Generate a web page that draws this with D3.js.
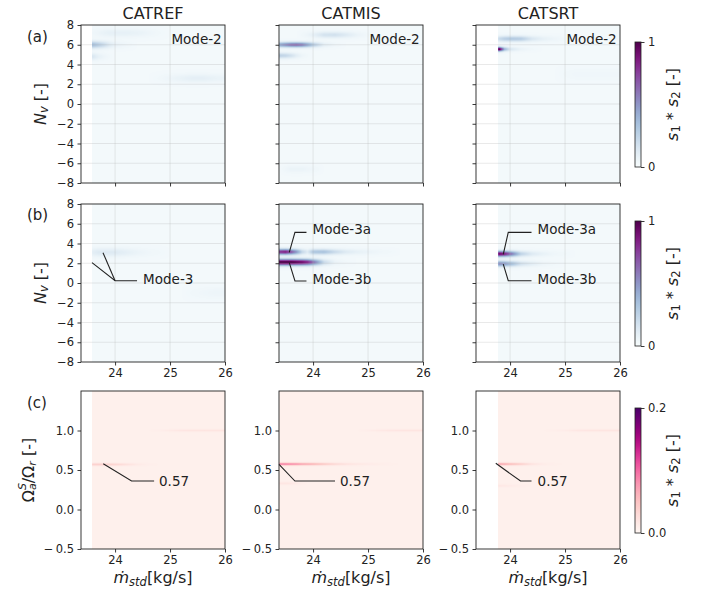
<!DOCTYPE html>
<html><head><meta charset="utf-8">
<script src="https://cdn.jsdelivr.net/npm/d3@7"></script>
<style>
body{margin:0;background:#fff;}
svg{display:block;}
text{font-family:"DejaVu Sans",sans-serif;fill:#222;}
</style>
</head><body>
<svg id="chart" width="714" height="598"></svg>
<script>
// ---------------- data ----------------
const columns = ["CATREF", "CATMIS", "CATSRT"];
const rowTags = ["(a)", "(b)", "(c)"];
const xTicks = [24, 25, 26];
const nvTicks = [-8, -6, -4, -2, 0, 2, 4, 6, 8];
const omegaTicks = [-0.5, 0.0, 0.5, 1.0];
const nvDomain = [-8, 8];
const omegaDomain = [-0.5, 1.5];
const xDomain = [23.38, 26];
const cbarMaxAB = 1;
const cbarMaxC = 0.2;
const dataStart = [23.58, 23.38, 23.78];
const bgAB = 0.025;
const bgC = 0.008;
const xSamples = [23.4, 23.5, 23.6, 23.7, 23.8, 23.9, 24.0, 24.2, 24.4, 24.6, 24.8, 25.0, 25.2, 25.4, 25.6, 25.8, 26.0];

// row (a): Mode-2, N_v
const refA_levels = [6.0, 4.8, 7.2, 2.6];
const refA_sigma = [0.25, 0.25, 0.3, 0.3];
const refA_values = [
  [0.30, 0.32, 0.32, 0.25, 0.18, 0.10, 0.05, 0.02, 0, 0, 0, 0, 0, 0, 0, 0, 0],
  [0.10, 0.12, 0.12, 0.06, 0.03, 0.01, 0, 0, 0, 0, 0, 0, 0, 0, 0, 0, 0],
  [0, 0, 0.02, 0.03, 0.05, 0.06, 0.06, 0.06, 0.05, 0.03, 0.01, 0, 0, 0, 0, 0, 0],
  [0, 0, 0, 0, 0, 0, 0, 0, 0, 0, 0.01, 0.03, 0.05, 0.07, 0.07, 0.05, 0.04]
];
const misA_levels = [6.0, 4.9, 7.0, -6.6];
const misA_sigma = [0.18, 0.2, 0.22, 0.25];
const misA_values = [
  [0.42, 0.50, 0.58, 0.60, 0.55, 0.42, 0.27, 0.07, 0.02, 0, 0, 0, 0, 0, 0, 0, 0],
  [0.22, 0.20, 0.15, 0.08, 0.03, 0.01, 0, 0, 0, 0, 0, 0, 0, 0, 0, 0, 0],
  [0, 0, 0, 0, 0.01, 0.03, 0.06, 0.14, 0.15, 0.10, 0.04, 0.01, 0, 0, 0, 0, 0],
  [0, 0.02, 0.04, 0.04, 0.04, 0.03, 0.02, 0, 0, 0, 0, 0, 0, 0, 0, 0, 0]
];
const srtA_levels = [5.55, 6.6, 3.0];
const srtA_sigma = [0.15, 0.2, 0.4];
const srtA_values = [
  [0, 0, 0, 0, 1.0, 0.35, 0.12, 0.04, 0.01, 0, 0, 0, 0, 0, 0, 0, 0],
  [0, 0, 0, 0, 0.18, 0.24, 0.27, 0.25, 0.12, 0.06, 0.03, 0.01, 0, 0, 0, 0, 0],
  [0, 0, 0, 0, 0, 0, 0, 0, 0, 0, 0, 0.01, 0.02, 0.02, 0.02, 0.02, 0.02]
];

// row (b): Mode-3, N_v
const refB_levels = [3.1, -1.0];
const refB_sigma = [0.3, 0.4];
const refB_values = [
  [0, 0, 0.08, 0.10, 0.10, 0.10, 0.10, 0.07, 0.04, 0.02, 0.01, 0, 0, 0, 0, 0, 0],
  [0, 0, 0, 0, 0, 0, 0, 0, 0, 0, 0, 0, 0, 0.01, 0.02, 0.03, 0.03]
];
const misB_levels = [3.15, 2.1];
const misB_sigma = [0.2, 0.22];
const misB_values = [
  [0.75, 0.80, 0.65, 0.45, 0.20, 0.10, 0.28, 0.30, 0.18, 0.10, 0.06, 0.04, 0.02, 0.01, 0, 0, 0],
  [1.0, 1.0, 1.0, 0.95, 0.90, 0.80, 0.60, 0.18, 0.04, 0.01, 0, 0, 0, 0, 0, 0, 0]
];
const srtB_levels = [2.95, 1.95];
const srtB_sigma = [0.2, 0.2];
const srtB_values = [
  [0, 0, 0, 0, 0.90, 0.80, 0.60, 0.22, 0.10, 0.05, 0.02, 0.01, 0, 0, 0, 0, 0],
  [0, 0, 0, 0, 0.50, 0.45, 0.35, 0.15, 0.08, 0.03, 0.01, 0, 0, 0, 0, 0, 0]
];

// row (c): Omega ratio
const refC_levels = [0.57, 1.0];
const refC_sigma = [0.012, 0.01];
const refC_values = [
  [0, 0, 0.03, 0.03, 0.03, 0.028, 0.025, 0.015, 0.006, 0.002, 0, 0, 0, 0, 0, 0, 0],
  [0, 0, 0, 0, 0, 0, 0, 0, 0, 0, 0.002, 0.006, 0.010, 0.012, 0.012, 0.012, 0.012]
];
const misC_levels = [0.575, 1.0, 0.33];
const misC_sigma = [0.012, 0.01, 0.012];
const misC_values = [
  [0.08, 0.08, 0.075, 0.07, 0.06, 0.055, 0.05, 0.035, 0.022, 0.013, 0.008, 0.005, 0.003, 0.001, 0, 0, 0],
  [0, 0, 0, 0, 0, 0, 0, 0, 0, 0, 0, 0.003, 0.007, 0.010, 0.011, 0.012, 0.012],
  [0.01, 0.01, 0.008, 0.005, 0.002, 0, 0, 0, 0, 0, 0, 0, 0, 0, 0, 0, 0]
];
const srtC_levels = [0.575, 1.0, 0.3];
const srtC_sigma = [0.012, 0.01, 0.012];
const srtC_values = [
  [0, 0, 0, 0, 0.06, 0.055, 0.045, 0.03, 0.012, 0.004, 0.001, 0, 0, 0, 0, 0, 0],
  [0, 0, 0, 0, 0, 0, 0, 0, 0, 0, 0.002, 0.004, 0.009, 0.011, 0.012, 0.012, 0.012],
  [0, 0, 0, 0, 0.008, 0.007, 0.005, 0.002, 0, 0, 0, 0, 0, 0, 0, 0, 0]
];

// annotations (data coordinates)
const mode2Label = [25.94, 6.55, "Mode-2"];
const refB_ann = [[[23.58, 2.06], [24.0, 0.23], [24.4, 0.23]], [[23.78, 3.07], [24.0, 0.23]]];
const refB_annText = [[24.51, 0.38, "Mode-3"]];
const misB_ann = [[[23.567, 3.1], [23.67, 5.13], [23.88, 5.13]], [[23.567, 2.06], [23.67, 0.2], [23.88, 0.2]]];
const misB_annText = [[23.99, 5.44, "Mode-3a"], [23.99, 0.42, "Mode-3b"]];
const srtB_ann = [[[23.876, 2.91], [23.967, 5.13], [24.39, 5.13]], [[23.876, 1.92], [23.967, 0.23], [24.39, 0.23]]];
const srtB_annText = [[24.5, 5.44, "Mode-3a"], [24.5, 0.42, "Mode-3b"]];
const refC_ann = [[[23.785, 0.58], [24.30, 0.36], [24.71, 0.36]]];
const refC_annText = [[24.80, 0.36, "0.57"]];
const misC_ann = [[[23.38, 0.572], [23.67, 0.36], [24.40, 0.36]]];
const misC_annText = [[24.49, 0.36, "0.57"]];
const srtC_ann = [[[23.74, 0.585], [24.19, 0.36], [24.39, 0.36]]];
const srtC_annText = [[24.5, 0.36, "0.57"]];

// ---------------- layout ----------------
const panelLeft = [81, 279, 476];
const rowTop = [25, 204, 391];
const PW = 144, PH = 158;
const cbarX = 635, cbarW = 6, cbarOff = 17, cbarH = 125;

const panelTable = [
  [ {levels: refA_levels, sigma: refA_sigma, values: refA_values, ann: [], annText: []},
    {levels: misA_levels, sigma: misA_sigma, values: misA_values, ann: [], annText: []},
    {levels: srtA_levels, sigma: srtA_sigma, values: srtA_values, ann: [], annText: []} ],
  [ {levels: refB_levels, sigma: refB_sigma, values: refB_values, ann: refB_ann, annText: refB_annText},
    {levels: misB_levels, sigma: misB_sigma, values: misB_values, ann: misB_ann, annText: misB_annText},
    {levels: srtB_levels, sigma: srtB_sigma, values: srtB_values, ann: srtB_ann, annText: srtB_annText} ],
  [ {levels: refC_levels, sigma: refC_sigma, values: refC_values, ann: refC_ann, annText: refC_annText},
    {levels: misC_levels, sigma: misC_sigma, values: misC_values, ann: misC_ann, annText: misC_annText},
    {levels: srtC_levels, sigma: srtC_sigma, values: srtC_values, ann: srtC_ann, annText: srtC_annText} ]
];

const svg = d3.select("#chart");
const defs = svg.append("defs");

function makeLUT(interp) {
  const lut = [];
  for (let k = 0; k < 256; k++) { const c = d3.rgb(interp(k / 255)); lut.push([c.r, c.g, c.b]); }
  return lut;
}
const lutAB = makeLUT(d3.interpolateBuPu);
const lutC = makeLUT(d3.interpolateRdPu);

function heatImage(p, xs, ys, start, bg, vmax, lut) {
  const cv = document.createElement("canvas");
  cv.width = PW; cv.height = PH;
  const ctx = cv.getContext("2d");
  const im = ctx.createImageData(PW, PH);
  const profs = p.values.map(v => d3.scaleLinear().domain(xSamples).range(v).clamp(true));
  for (let i = 0; i < PW; i++) {
    const x = xs.invert(i + 0.5);
    if (x < start) continue;
    const pv = profs.map(f => f(x));
    for (let j = 0; j < PH; j++) {
      const y = ys.invert(j + 0.5);
      let v = bg;
      for (let k = 0; k < p.levels.length; k++) {
        const z = (y - p.levels[k]) / p.sigma[k];
        v += pv[k] * Math.exp(-0.5 * z * z);
      }
      const t = Math.max(0, Math.min(1, v / vmax));
      const c = lut[Math.round(t * 255)];
      const o = (j * PW + i) * 4;
      im.data[o] = c[0]; im.data[o + 1] = c[1]; im.data[o + 2] = c[2]; im.data[o + 3] = 255;
    }
  }
  ctx.putImageData(im, 0, 0);
  return cv.toDataURL();
}

const TICK_FS = 11.5;
const fmtC = d => (d < 0 ? "\u2212\u2009" : "") + d3.format(".1f")(Math.abs(d));

for (let r = 0; r < 3; r++) {
  const isC = r === 2;
  for (let c = 0; c < 3; c++) {
    const p = panelTable[r][c];
    const g = svg.append("g").attr("transform", `translate(${panelLeft[c]},${rowTop[r]})`);
    const xs = d3.scaleLinear().domain(xDomain).range([0, PW]);
    const ys = d3.scaleLinear().domain(isC ? omegaDomain : nvDomain).range([PH, 0]);
    const href = heatImage(p, xs, ys, dataStart[c], isC ? bgC : bgAB, isC ? cbarMaxC : cbarMaxAB, isC ? lutC : lutAB);
    g.append("image").attr("x", 0).attr("y", 0).attr("width", PW).attr("height", PH)
      .attr("preserveAspectRatio", "none").attr("href", href);

    if (!isC) {
      g.append("g").selectAll("line.gx").data(xTicks.filter(d => d < 26)).join("line")
        .attr("x1", d => xs(d)).attr("x2", d => xs(d)).attr("y1", 0).attr("y2", PH)
        .attr("stroke", "#b0b0b0").attr("stroke-opacity", 0.35).attr("stroke-width", 0.8);
      g.append("g").selectAll("line.gy").data(nvTicks.filter(d => d > -8 && d < 8)).join("line")
        .attr("x1", 0).attr("x2", PW).attr("y1", d => ys(d)).attr("y2", d => ys(d))
        .attr("stroke", "#b0b0b0").attr("stroke-opacity", 0.35).attr("stroke-width", 0.8);
    }

    // annotations
    const line = d3.line().x(d => xs(d[0])).y(d => ys(d[1]));
    g.selectAll("path.ann").data(p.ann).join("path").attr("class", "ann")
      .attr("d", line).attr("fill", "none").attr("stroke", "#222").attr("stroke-width", 1.1);
    g.selectAll("text.ann").data(p.annText).join("text").attr("class", "ann")
      .attr("x", d => xs(d[0])).attr("y", d => ys(d[1])).attr("dominant-baseline", "central")
      .attr("font-size", 13.5).text(d => d[2]);
    if (r === 0) {
      g.append("text").attr("x", xs(mode2Label[0])).attr("y", ys(mode2Label[1]))
        .attr("text-anchor", "end").attr("dominant-baseline", "central")
        .attr("font-size", 13.5).text(mode2Label[2]);
    }

    // axes
    const yAxis = d3.axisLeft(ys).tickValues(isC ? omegaTicks : nvTicks).tickSize(3.5).tickPadding(3.5)
      .tickFormat(isC ? fmtC : d3.format("d"));
    const ya = g.append("g").call(yAxis);
    if (!isC && c > 0) ya.selectAll("text").remove();
    const xAxis = d3.axisBottom(xs).tickValues(xTicks).tickSize(3.5).tickPadding(3).tickFormat(d3.format("d"));
    const xa = g.append("g").attr("transform", `translate(0,${PH})`).call(xAxis);
    if (r === 0) xa.selectAll("text").remove();
    [ya, xa].forEach(a => {
      a.select(".domain").remove();
      a.selectAll("line").attr("stroke", "#222").attr("stroke-width", 0.9);
      a.selectAll("text").attr("font-size", TICK_FS).attr("fill", "#222").attr("font-family", "DejaVu Sans");
    });
    g.append("rect").attr("x", 0).attr("y", 0).attr("width", PW).attr("height", PH)
      .attr("fill", "none").attr("stroke", "#222").attr("stroke-width", 0.9);

    if (r === 0) {
      svg.append("text").attr("x", panelLeft[c] + PW / 2).attr("y", 18.5).attr("text-anchor", "middle")
        .attr("font-size", 16).text(columns[c]);
    }
    if (isC) {
      const xl = svg.append("text").attr("x", panelLeft[c] + PW / 2).attr("y", 583)
        .attr("text-anchor", "middle").attr("font-size", 16);
      xl.append("tspan").attr("font-style", "italic").text("ṁ");
      xl.append("tspan").attr("font-style", "italic").attr("font-size", 11.5).attr("dy", 3).text("std");
      xl.append("tspan").attr("dy", -3).text("[kg/s]");
    }
  }

  // row tag
  svg.append("text").attr("x", 27).attr("y", [36.5, 215, 403][r]).attr("dominant-baseline", "central")
    .attr("font-size", 15).text(rowTags[r]);

  // y label
  const cy = rowTop[r] + PH / 2;
  const lx = isC ? 28 : 40;
  const yl = svg.append("text").attr("transform", `translate(${lx},${cy}) rotate(-90)`)
    .attr("text-anchor", "middle").attr("dominant-baseline", "central").attr("font-size", 16);
  if (!isC) {
    yl.append("tspan").attr("font-style", "italic").text("N");
    yl.append("tspan").attr("font-style", "italic").attr("font-size", 11.5).attr("dy", 3.5).text("v");
    yl.append("tspan").attr("dy", -3.5).text(" [-]");
  } else {
    yl.append("tspan").text("Ω");
    yl.append("tspan").attr("font-style", "italic").attr("font-size", 11).attr("dy", -6).text("S");
    yl.append("tspan").attr("font-style", "italic").attr("font-size", 11).attr("dx", -7).attr("dy", 10).text("a");
    yl.append("tspan").attr("dy", -4).text("/Ω");
    yl.append("tspan").attr("font-style", "italic").attr("font-size", 11).attr("dy", 3.5).text("r");
    yl.append("tspan").attr("dy", -3.5).text(" [-]");
  }

  // colorbar
  const interp = isC ? d3.interpolateRdPu : d3.interpolateBuPu;
  const vmax = isC ? cbarMaxC : cbarMaxAB;
  const gid = "cbar" + r;
  const grad = defs.append("linearGradient").attr("id", gid).attr("x1", 0).attr("x2", 0).attr("y1", 1).attr("y2", 0);
  d3.range(0, 1.0001, 0.05).forEach(t => grad.append("stop").attr("offset", t).attr("stop-color", interp(t)));
  const cg = svg.append("g").attr("transform", `translate(${cbarX},${rowTop[r] + cbarOff})`);
  cg.append("rect").attr("width", cbarW).attr("height", cbarH).attr("fill", `url(#${gid})`)
    .attr("stroke", "#222").attr("stroke-width", 0.8);
  const cs = d3.scaleLinear().domain([0, vmax]).range([cbarH, 0]);
  const ca = cg.append("g").attr("transform", `translate(${cbarW},0)`)
    .call(d3.axisRight(cs).tickValues([0, vmax]).tickSize(3.5).tickPadding(3.5)
      .tickFormat(isC ? d3.format(".1f") : d3.format("d")));
  ca.select(".domain").remove();
  ca.selectAll("line").attr("stroke", "#222").attr("stroke-width", 0.9);
  ca.selectAll("text").attr("font-size", TICK_FS).attr("fill", "#222").attr("font-family", "DejaVu Sans");
  const cl = svg.append("text").attr("transform", `translate(672,${rowTop[r] + cbarOff + cbarH / 2}) rotate(-90)`)
    .attr("text-anchor", "middle").attr("dominant-baseline", "central").attr("font-size", 16);
  cl.append("tspan").attr("font-style", "italic").text("s");
  cl.append("tspan").attr("font-size", 11.5).attr("dy", 3.5).text("1");
  cl.append("tspan").attr("dy", -3.5).text(" * ");
  cl.append("tspan").attr("font-style", "italic").text("s");
  cl.append("tspan").attr("font-size", 11.5).attr("dy", 3.5).text("2");
  cl.append("tspan").attr("dy", -3.5).text(" [-]");
}
</script>
</body></html>
